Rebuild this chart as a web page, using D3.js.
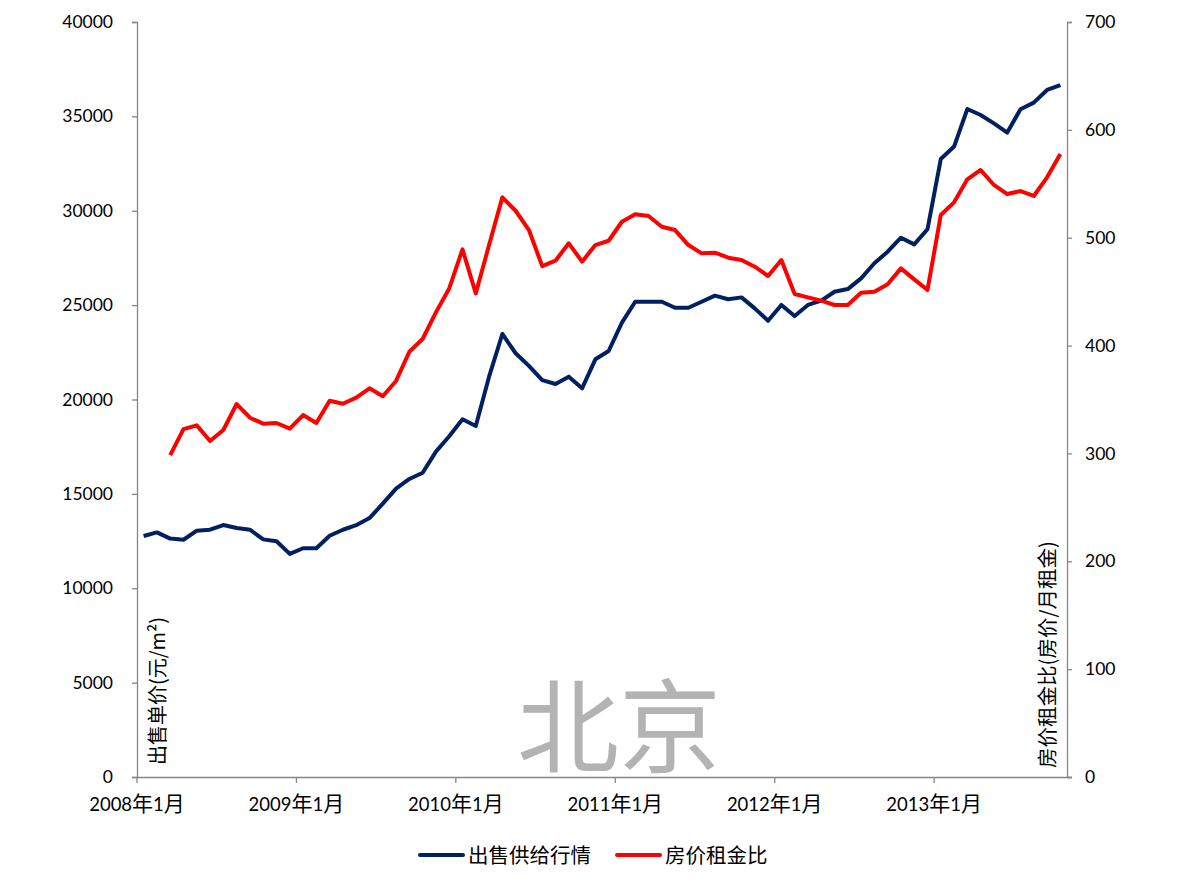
<!DOCTYPE html>
<html><head><meta charset="utf-8">
<script src="https://cdn.jsdelivr.net/npm/d3@7"></script>
<style>
body{margin:0;background:#fff;}
svg text{font-family:Lato,"Noto Sans CJK SC",sans-serif;}
</style></head>
<body><svg id="c" width="1181" height="886"></svg>
<script>
// Categories: monthly, 2008-01 .. 2013-10
const startYear = 2008;
const monthCount = 70;
const months = d3.range(monthCount).map(i => `${startYear + Math.floor(i/12)}-${String(i%12+1).padStart(2,"0")}`);
const xTickLabels = ["2008年1月","2009年1月","2010年1月","2011年1月","2012年1月","2013年1月"];
const leftTicks = [0,5000,10000,15000,20000,25000,30000,35000,40000];
const rightTicks = [0,100,200,300,400,500,600,700];

// 出售供给行情 (元/㎡)
const salePrice = [
 12770,12960,12630,12570,13050,13100,13350,13190,13100,12590,12490,11820,
 12120,12120,12780,13100,13340,13720,14480,15280,15790,16120,17240,18050,
 18950,18600,21210,23470,22450,21780,21030,20820,21210,20590,22130,22570,
 24070,25180,25180,25180,24860,24860,25180,25500,25310,25410,24830,24170,
 25010,24420,25010,25240,25710,25850,26420,27220,27830,28570,28220,29020,
 32740,33400,35390,35070,34630,34140,35380,35730,36400,36660];
// 房价租金比
const priceRentRatio = [
 null,null,298.5,322.6,326,311.5,321.7,345.8,333.1,327.6,328.2,323,
 335.6,328.2,348.9,346.1,351.7,360.4,353,367.2,394.3,406.1,430.8,453,
 489.2,448.4,493.2,537.4,525,507.1,473.7,478.7,494.8,477.8,493.2,497.2,
 514.8,521.7,520.1,510.2,507.1,493.2,485.5,486.1,481.5,479.3,473.1,464.5,
 479.3,447.8,444.7,441.6,437.6,437.6,449,450,456.8,471.6,461.4,451.5,
 521,532.8,554.1,562.8,548.9,540.5,543.3,538.7,556,577.6];

const seriesNames = ["出售供给行情","房价租金比"];
const seriesColors = ["#002060","#FF0000"];

const svg = d3.select("#c");
const L = 137, R = 1067, T = 22, B = 777;
const axisColor = "#868686";

const x = d3.scaleBand().domain(months).range([L, R]);
const yL = d3.scaleLinear().domain([0,40000]).range([B,T]);
const yR = d3.scaleLinear().domain([0,700]).range([B,T]);

// watermark
svg.append("text").attr("x", 619).attr("y", 765).attr("text-anchor","middle")
  .attr("font-size", 102).attr("fill","#b3b3b3")
  .style("font-family","'Noto Sans CJK SC'").attr("font-weight", 400).text("北京");

// left axis
const gL = svg.append("g").attr("transform",`translate(${L},0)`)
  .call(d3.axisLeft(yL).tickValues(leftTicks).tickSize(5).tickFormat(d3.format("d")));
// right axis
const gR = svg.append("g").attr("transform",`translate(${R},0)`)
  .call(d3.axisRight(yR).tickValues(rightTicks).tickSize(5).tickFormat(d3.format("d")));
// bottom axis
const janMonths = months.filter(m => m.endsWith("-01"));
const gB = svg.append("g").attr("transform",`translate(0,${B})`)
  .call(d3.axisBottom(x).tickValues(janMonths).tickSize(6).tickPadding(16)
    .tickFormat((d,i) => xTickLabels[i]));
gB.selectAll(".tick").attr("transform", d => `translate(${x(d)},0)`);
gB.select(".domain").attr("d", `M${L},0.5H${R+5}`);

[gL,gR,gB].forEach(g => {
  g.selectAll(".domain").attr("stroke", axisColor).attr("stroke-width",1.3);
  g.selectAll(".tick line").attr("stroke", axisColor).attr("stroke-width",1.3);
  g.selectAll(".tick text").attr("font-size", 17.5).attr("fill","#000")
    .style("font-family","Lato,'Noto Sans CJK SC',sans-serif");
});
gL.selectAll(".tick text").attr("x",-24);
gR.selectAll(".tick text").attr("x",18);
// split x labels: digits in Lato, CJK slightly larger
gB.selectAll(".tick text").each(function() {
  const t = d3.select(this);
  const s = t.text();
  t.text(null);
  s.split(/([\u4e00-\u9fff]+)/).filter(p => p.length).forEach(p => {
    const cjk = /[\u4e00-\u9fff]/.test(p);
    t.append("tspan").text(p)
      .attr("font-size", cjk ? 21 : 18.5)
      .style("font-family", cjk ? "'Noto Sans CJK SC'" : "Lato");
  });
});

// axis titles
svg.append("text").attr("transform","translate(165,765) rotate(-90)")
  .attr("font-size",20).attr("fill","#000").style("font-family","'Noto Sans CJK SC'")
  .text("出售单价(元/m²)");
svg.append("text").attr("transform","translate(1055,768) rotate(-90)")
  .attr("font-size",20.5).attr("fill","#000").style("font-family","'Noto Sans CJK SC'")
  .text("房价租金比(房价/月租金)");

// lines
const cx = m => x(m) + x.bandwidth()/2;
const lineL = d3.line().defined(d => d[1] != null).x(d => cx(d[0])).y(d => yL(d[1]));
const lineR = d3.line().defined(d => d[1] != null).x(d => cx(d[0])).y(d => yR(d[1]));
svg.append("path").datum(months.map((m,i)=>[m,salePrice[i]]))
  .attr("d", lineL).attr("fill","none").attr("stroke",seriesColors[0]).attr("stroke-width",4).attr("stroke-linejoin","round");
svg.append("path").datum(months.map((m,i)=>[m,priceRentRatio[i]]))
  .attr("d", lineR).attr("fill","none").attr("stroke",seriesColors[1]).attr("stroke-width",4).attr("stroke-linejoin","round");

// legend
const legendX = [420, 617];
seriesNames.forEach((n,i) => {
  const g = svg.append("g").attr("transform",`translate(${legendX[i]},855)`);
  g.append("line").attr("x1",0).attr("x2",43).attr("stroke",seriesColors[i]).attr("stroke-width",4).attr("stroke-linecap","round");
  g.append("text").attr("x",48).attr("y",7.5).attr("font-size",20.5).attr("fill","#000")
    .style("font-family","'Noto Sans CJK SC'").text(n);
});
</script></body></html>
